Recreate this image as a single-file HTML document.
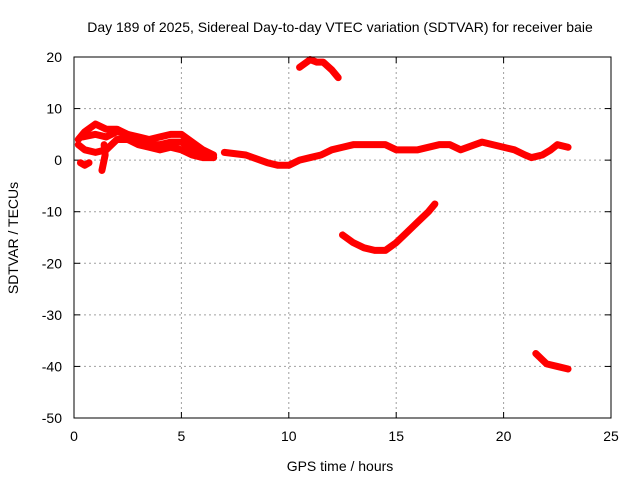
<!DOCTYPE html>
<html><head><meta charset="utf-8"><style>
body{margin:0;background:#fff}
svg text{font-family:"Liberation Sans",sans-serif;font-size:14px;fill:#000}
</style></head><body>
<svg id="chart" width="640" height="480" xmlns="http://www.w3.org/2000/svg">
<text x="340" y="32" text-anchor="middle">Day 189 of 2025, Sidereal Day-to-day VTEC variation (SDTVAR) for receiver baie</text>
<text x="340" y="471" text-anchor="middle">GPS time / hours</text>
<text transform="translate(18,238) rotate(-90)" text-anchor="middle">SDTVAR / TECUs</text>
<g id="grid"></g><g id="ticks"></g><g id="series"></g>
<rect x="74" y="57" width="537" height="361" fill="none" stroke="#000"/>
</svg>
<script>
const xTicks=[0,5,10,15,20,25];
const yTicks=[20,10,0,-10,-20,-30,-40,-50];
const segA1=[[0.2,4],[0.5,5.5],[1,7],[1.5,6],[2,6],[2.5,5],[3,4.5],[3.5,4],[4,4.5],[4.5,5],[5,5],[5.5,3.5],[6,2],[6.5,1]];
const segA2=[[0.2,3],[0.5,2],[1,1.5],[1.5,2],[2,4],[2.5,4],[3,3],[3.5,2.5],[4,2],[4.5,2.5],[5,2],[5.5,1],[6,0.5],[6.5,0.5]];
const segA5=[[0.4,4.5],[1,5],[1.5,4.5],[2,5.5],[2.5,5],[3,4],[3.5,3],[4,3],[4.5,3.5],[5,3.5],[5.5,2],[6,1],[6.5,0.5]];
const segA3=[[0.3,-0.5],[0.5,-1],[0.7,-0.5]];
const segA4=[[1.3,-2],[1.45,1],[1.4,3]];
const segMain=[[7,1.5],[8,1],[9,-0.5],[9.5,-1],[10,-1],[10.5,0],[11,0.5],[11.5,1],[12,2],[12.5,2.5],[13,3],[14,3],[14.5,3],[15,2],[16,2],[17,3],[17.5,3],[18,2],[19,3.5],[20,2.5],[20.5,2],[21,1],[21.3,0.5],[21.8,1],[22.2,2],[22.5,3],[23,2.5]];
const segUpper=[[10.5,18],[11,19.5],[11.3,19],[11.6,19],[12,17.5],[12.3,16]];
const segLow=[[12.5,-14.5],[13,-16],[13.5,-17],[14,-17.5],[14.5,-17.5],[15,-16],[15.5,-14],[16,-12],[16.5,-10],[16.8,-8.5]];
const segBottom=[[21.5,-37.5],[22,-39.5],[22.5,-40],[23,-40.5]];
const segments=[segA1,segA2,segA5,segA3,segA4,segMain,segUpper,segLow,segBottom];
const X0=74,X1=611,Y0=418,Y1=57;
const sx=v=>X0+(v-0)/(25-0)*(X1-X0);
const sy=v=>Y0-(v+50)/(70)*(Y0-Y1);
const NS="http://www.w3.org/2000/svg";
const grid=document.getElementById('grid'),ticks=document.getElementById('ticks'),ser=document.getElementById('series');
function mk(tag,attrs,parent){const e=document.createElementNS(NS,tag);for(const k in attrs)e.setAttribute(k,attrs[k]);parent.appendChild(e);return e;}
xTicks.forEach(t=>{
 const x=sx(t);
 if(t>0&&t<25){const g=mk('line',{x1:x,x2:x,y1:Y1,y2:Y0,stroke:'#a0a0a0','stroke-dasharray':'2,3'},grid);
 
 }
 mk('line',{x1:x,x2:x,y1:Y0,y2:Y0-6,stroke:'#000'},ticks);
 mk('line',{x1:x,x2:x,y1:Y1,y2:Y1+6,stroke:'#000'},ticks);
 const l=mk('text',{x:x,y:Y0+23,'text-anchor':'middle'},ticks);l.textContent=t;
 
 
});
yTicks.forEach(t=>{
 const y=sy(t);
 if(t>-50&&t<20){const g=mk('line',{x1:X0,x2:X1,y1:y,y2:y,stroke:'#a0a0a0','stroke-dasharray':'2,3'},grid);
 
 }
 mk('line',{x1:X0,x2:X0+6,y1:y,y2:y,stroke:'#000'},ticks);
 mk('line',{x1:X1,x2:X1-6,y1:y,y2:y,stroke:'#000'},ticks);
 const l=mk('text',{x:X0-12,y:y+5,'text-anchor':'end'},ticks);l.textContent=t;
 
 
});
segments.forEach(s=>{
 const p=mk('polyline',{points:s.map(d=>sx(d[0])+','+sy(d[1])).join(' '),fill:'none',stroke:'#ff0000','stroke-width':7,'stroke-linejoin':'round','stroke-linecap':'round'},ser);
 
 
});
</script>
</body></html>
